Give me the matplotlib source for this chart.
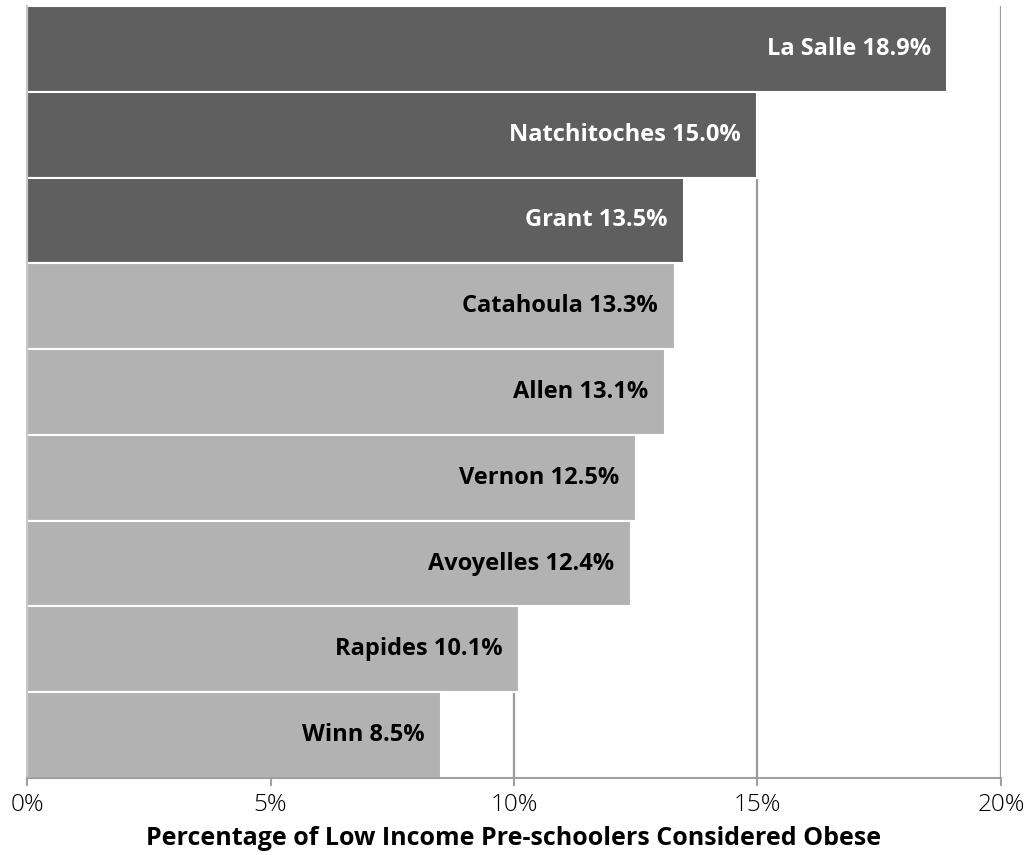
import matplotlib
matplotlib.use("Agg")
import matplotlib.pyplot as plt
from matplotlib.ticker import FuncFormatter

# parishes, top to bottom
parishes = ["La Salle", "Natchitoches", "Grant", "Catahoula", "Allen",
            "Vernon", "Avoyelles", "Rapides", "Winn"]
obese_pct = [18.9, 15.0, 13.5, 13.3, 13.1, 12.5, 12.4, 10.1, 8.5]
highlighted = [True, True, True, False, False, False, False, False, False]

plt.rcParams["font.family"] = ["Open Sans", "DejaVu Sans"]

fig = plt.figure(figsize=(10.28, 8.55), dpi=100)
ax = fig.add_axes([0.0263, 0.090, 0.9474, 0.903])

ypos = list(range(len(parishes)))[::-1]
colors = ["#5f5f5f" if h else "#b2b2b2" for h in highlighted]

for x in [5, 10, 15, 20]:
    ax.axvline(x, color="#9a9a9a", lw=1.6, zorder=0)

ax.barh(ypos, obese_pct, height=1.0, color=colors, edgecolor="white",
        linewidth=1.5, zorder=2)

for y, v, name, h in zip(ypos, obese_pct, parishes, highlighted):
    ax.annotate(f"{name} {v:.1f}%", xy=(v, y), xytext=(-12, 0),
                textcoords="offset points", ha="right", va="center",
                fontsize=17, fontweight="bold",
                color="white" if h else "black", zorder=3)

ax.set_xlim(0, 20)
ax.set_ylim(-0.5, len(parishes) - 0.5)
ax.set_xticks([0, 5, 10, 15, 20])
ax.xaxis.set_major_formatter(FuncFormatter(lambda v, p: f"{v:.0f}%"))
ax.set_yticks([])
ax.tick_params(axis="x", length=6, width=1.5, color="#a0a0a0",
               labelsize=17.5, pad=5)
for lbl in ax.get_xticklabels():
    lbl.set_fontweight("light")

for s in ["top", "right"]:
    ax.spines[s].set_visible(False)
ax.spines["left"].set_color("#c8c8c8")
ax.spines["left"].set_linewidth(1.5)
ax.spines["bottom"].set_color("#a0a0a0")
ax.spines["bottom"].set_linewidth(1.5)

ax.set_xlabel("Percentage of Low Income Pre-schoolers Considered Obese",
              fontsize=18, fontweight="bold", labelpad=6)

fig.savefig("out.png", dpi=100)
